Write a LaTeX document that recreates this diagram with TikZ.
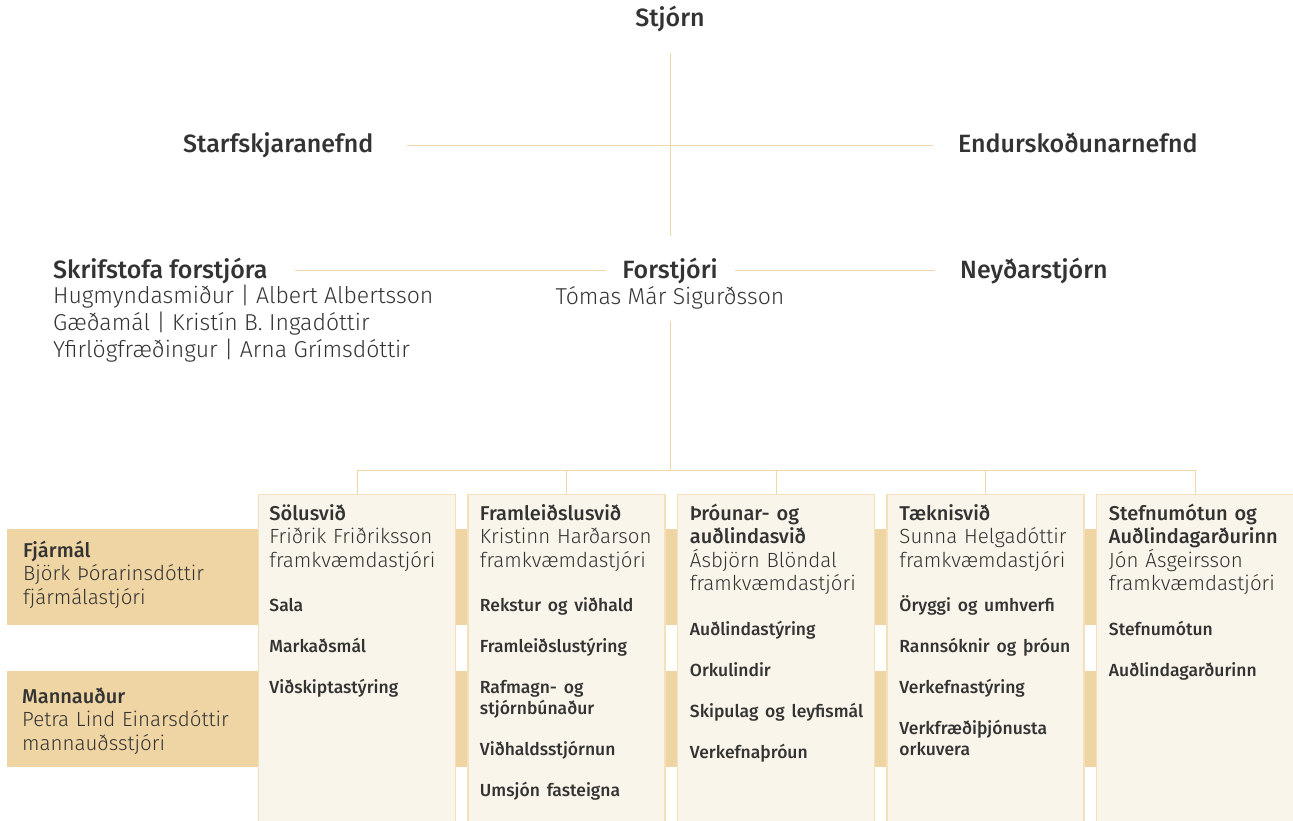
\documentclass[tikz,border=0pt]{standalone}
\usepackage{fontspec}
\setmainfont{Fira Sans}[UprightFont={* Light}, BoldFont={* Medium}]
\usetikzlibrary{positioning}

\definecolor{ink}{HTML}{333333}
\definecolor{linetan}{HTML}{F0D8A6}
\definecolor{bandtan}{HTML}{EED5A3}
\definecolor{colfill}{HTML}{FAF5EA}
\definecolor{coledge}{HTML}{F4E1BA}

\newcommand{\colhead}{\fontsize{20}{23.5}\selectfont\bfseries}
\newcommand{\colitem}{\fontsize{17.5}{23.5}\selectfont\bfseries}

\begin{document}
\begin{tikzpicture}[x=1pt,y=-1pt]
\tikzset{top/.style = {font=\fontsize{25}{27}\selectfont\bfseries, text=ink, inner sep=0pt}}
\tikzset{names/.style = {font=\fontsize{23}{27}\selectfont, text=ink, inner sep=0pt}}
\tikzset{line/.style = {draw=linetan, line width=1pt}}
\useasboundingbox (0,0) rectangle (1293,821);

% bands
\tikzset{band/.style = {fill=bandtan, anchor=north west, minimum width=1286pt, minimum height=96pt, inner sep=0pt}}
\node[band] (fjband) at (7,529) {};
\node[band] (maband) at (7,671) {};

% top of the chart
\node[top, anchor=base] (stjorn) at (670,27) {Stjórn};
\node[top, anchor=base west] (starf) at (183,153) {Starfskjaranefnd};
\node[top, anchor=base west] (endur) at (958,153) {Endurskoðunarnefnd};
\node[top, anchor=base] (forstjori) at (670,278) {Forstjóri};
\node[top, anchor=base west] (skrif) at (53,278) {Skrifstofa forstjóra};
\node[top, anchor=base west] (neyd) at (960,278) {Neyðarstjórn};
\node[names, anchor=base] (tomas) at (670,304) {Tómas Már Sigurðsson};
\node[names, anchor=north west, align=left] (skriflist) at (53,284)
  {\strut Hugmyndasmiður | Albert Albertsson\\ Gæðamál | Kristín B. Ingadóttir\\ Yfirlögfræðingur | Arna Grímsdóttir};

%edges
\draw[line, shorten <=20pt, shorten >=21pt] (stjorn.south) -- (forstjori.north);
\draw[line, shorten <=33pt, shorten >=25pt] (starf.east) -- (starf.east -| endur.west);
\draw[line, shorten <=27pt, shorten >=16pt] (skrif.east) -- (skrif.east -| forstjori.west);
\draw[line, shorten <=17pt, shorten >=25pt] (forstjori.east) -- (forstjori.east -| neyd.west);
\coordinate (bus) at (670,470.5);
\draw[line, shorten <=12pt] (tomas.south) -- (bus);

% columns
\tikzset{colbox/.style = {draw=coledge, fill=colfill, line width=1.5pt, anchor=north, minimum width=197pt, minimum height=340pt, inner sep=0pt}}
\tikzset{coltext/.style = {anchor=north west, inner sep=0pt, text width=186pt, align=left, font=\fontsize{20.5}{23.5}\selectfont, text=ink}}
\node[colbox] (sol) at (357,493.5) {};
\node[colbox] (fram) at (566.5,493.5) {};
\node[colbox] (throun) at (776,493.5) {};
\node[colbox] (taekni) at (985.5,493.5) {};
\node[colbox] (stefna) at (1195,493.5) {};
\draw[line] (bus) -| (sol.north);
\draw[line] (bus) -| (fram.north);
\draw[line] (bus) -| (throun.north);
\draw[line] (bus) -| (taekni.north);
\draw[line] (bus) -| (stefna.north);

\node[coltext] (soltext) at ([shift={(11.5,10)}]sol.north west)
  {{\colhead\strut Sölusvið}\\ Friðrik Friðriksson\\ framkvæmdastjóri\\[21pt]
   {\colitem Sala}\\[17.5pt] {\colitem Markaðsmál}\\[17.5pt] {\colitem Viðskiptastýring}};
\node[coltext] (framtext) at ([shift={(12.5,10)}]fram.north west)
  {{\colhead\strut Framleiðslusvið}\\ Kristinn Harðarson\\ framkvæmdastjóri\\[21pt]
   {\colitem Rekstur og viðhald}\\[17.5pt] {\colitem Framleiðslustýring}\\[17.5pt]
   {\colitem Rafmagn- og}\\[-2.5pt] {\colitem stjórnbúnaður}\\[17.5pt]
   {\colitem Viðhaldsstjórnun}\\[17.5pt] {\colitem Umsjón fasteigna}};
\node[coltext] (thrountext) at ([shift={(13,10)}]throun.north west)
  {{\colhead\strut Þróunar- og}\\ {\colhead auðlindasvið}\\ Ásbjörn Blöndal\\ framkvæmdastjóri\\[21pt]
   {\colitem Auðlindastýring}\\[17.5pt] {\colitem Orkulindir}\\[17.5pt]
   {\colitem Skipulag og leyfismál}\\[17.5pt] {\colitem Verkefnaþróun}};
\node[coltext] (taeknitext) at ([shift={(13,10)}]taekni.north west)
  {{\colhead\strut Tæknisvið}\\ Sunna Helgadóttir\\ framkvæmdastjóri\\[21pt]
   {\colitem Öryggi og umhverfi}\\[17.5pt] {\colitem Rannsóknir og þróun}\\[17.5pt]
   {\colitem Verkefnastýring}\\[17.5pt]
   {\colitem Verkfræðiþjónusta}\\[-2.5pt] {\colitem orkuvera}};
\node[coltext] (stefnatext) at ([shift={(13,10)}]stefna.north west)
  {{\colhead\strut Stefnumótun og}\\ {\colhead Auðlindagarðurinn}\\ Jón Ásgeirsson\\ framkvæmdastjóri\\[21pt]
   {\colitem Stefnumótun}\\[17.5pt] {\colitem Auðlindagarðurinn}};

% band texts
\node[coltext, text width=230pt] (fjtext) at (23,540.5)
  {{\colhead\strut Fjármál}\\ Björk Þórarinsdóttir\\ fjármálastjóri};
\node[coltext, text width=230pt] (matext) at (22,686.5)
  {{\colhead\strut Mannauður}\\ Petra Lind Einarsdóttir\\ mannauðsstjóri};
\end{tikzpicture}
\end{document}
